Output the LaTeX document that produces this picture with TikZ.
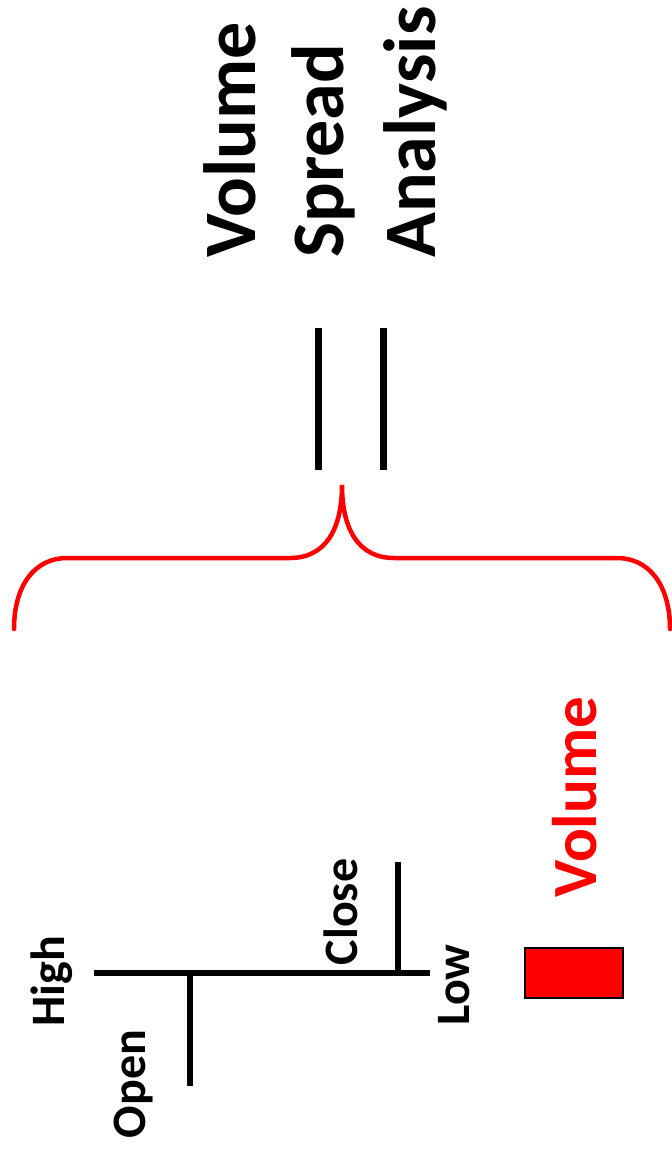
\documentclass[tikz,border=0pt]{standalone}
\usepackage{fontspec}
\setmainfont{Carlito}
\usepackage{tikz}
\usetikzlibrary{calc, positioning}

\begin{document}
\begin{tikzpicture}[
  x=0.5pt, y=-0.5pt,
  every node/.style={font=\bfseries, inner sep=0pt},
  title/.style={font=\fontsize{37}{40}\selectfont\bfseries, rotate=90, anchor=base west},
  barlabel/.style={font=\fontsize{24}{26}\selectfont\bfseries, rotate=90},
  equalline/.style={draw, line width=3.5pt},
  barline/.style={draw, line width=3.25pt},
  bracket/.style={draw=red, line width=2.25pt, line cap=round}
]
\useasboundingbox (0,0) rectangle (672,1152);

% title
\node[title] (vol) at (255,258) {Volume};
\node[title] (spr) at (343,258) {Spread};
\node[title] (ana) at (435,258) {Analysis};

% equals sign
\coordinate (eqa top) at (318,328);
\coordinate (eqa bot) at (318,470);
\coordinate (eqb top) at (383,328);
\coordinate (eqb bot) at (383,470);
\draw[equalline] (eqa top) -- (eqa bot);
\draw[equalline] (eqb top) -- (eqb bot);

% brace
\coordinate (brl) at (14,629);
\coordinate (brlc) at (67,558);
\coordinate (brli) at (290,558);
\coordinate (tip) at (342,485);
\coordinate (brri) at (394,558);
\coordinate (brrc) at (617,558);
\coordinate (brr) at (670,629);
\draw[bracket] (brl) .. controls (14,585) and (35,558) .. (brlc) -- (brli)
  .. controls (325,558) and (342,530) .. (tip)
  .. controls (342,530) and (359,558) .. (brri) -- (brrc)
  .. controls (649,558) and (670,585) .. (brr);

% price bar
\coordinate (high) at (94,973);
\coordinate (low) at (430,973);
\coordinate (open) at (190,973);
\coordinate (open end) at (190,1086);
\coordinate (close) at (398,973);
\coordinate (close end) at (398,862);
\draw[barline] (high) -- (low);
\draw[barline] (open) -- (open end);
\draw[barline] (close) -- (close end);

\node[barlabel] (hl) at (52,981) {High};
\node[barlabel] (ol) at (134,1084) {Open};
\node[barlabel] (cl) at (341,912) {Close};
\node[barlabel] (ll) at (454,985) {Low};

% volume
\node[draw=black, fill=red, line width=1pt, minimum width=49pt, minimum height=25pt] (volbar) at (574,973) {};
\node[font=\fontsize{31.5}{34}\selectfont\bfseries, text=red, rotate=90] (voll) at (575,797) {Volume};

\end{tikzpicture}
\end{document}
